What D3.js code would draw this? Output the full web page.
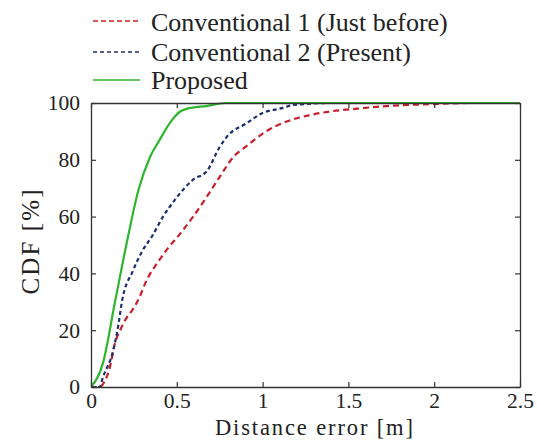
<!DOCTYPE html>
<html>
<head>
<meta charset="utf-8">
<script src="https://cdn.jsdelivr.net/npm/d3@7"></script>
<style>
  html, body { margin: 0; padding: 0; background: #fff; }
  svg { display: block; }
  text { font-family: "Liberation Serif", "Times New Roman", serif; fill: #222; }
</style>
</head>
<body>
<svg id="chart" width="537" height="445"></svg>
<script>
// Distance error [m] vs cumulative percentage for each method
const conv1Err = [0, 0.05, 0.08, 0.11, 0.14, 0.17, 0.21, 0.24, 0.275, 0.325, 0.39, 0.45, 0.52, 0.595, 0.675, 0.75, 0.83, 0.91, 1.02, 1.12, 1.28, 1.39, 1.55, 1.74, 1.99, 2.2, 2.5];
const conv1Cdf = [0, 0, 2, 7, 15.5, 20, 24.6, 27, 30.6, 37.7, 44, 49, 54, 60, 67, 74, 81, 85, 90, 93, 95.8, 97, 98, 99, 99.6, 100, 100];

const conv2Err = [0, 0.05, 0.07, 0.13, 0.16, 0.18, 0.245, 0.30, 0.355, 0.42, 0.49, 0.595, 0.675, 0.75, 0.79, 0.91, 1.0, 1.1, 1.18, 1.4, 2.5];
const conv2Cdf = [0, 0, 3.5, 13, 22, 30, 41, 48, 53, 60, 66, 73, 76, 84.5, 88, 93, 96.5, 98, 99.3, 100, 100];

const propErr = [0, 0.07, 0.14, 0.216, 0.275, 0.344, 0.40, 0.46, 0.52, 0.56, 0.68, 0.78, 2.5];
const propCdf = [0, 8.5, 30, 53, 69, 81, 87, 93, 97, 98, 99, 100, 100];

const xTicks = [0, 0.5, 1, 1.5, 2, 2.5];
const yTicks = [0, 20, 40, 60, 80, 100];

const seriesNames = ["Conventional 1 (Just before)", "Conventional 2 (Present)", "Proposed"];
const seriesColors = ["#c8202a", "#1c2f6e", "#2fb52f"];
const seriesDash = ["6,4", "4,3", null];

const svg = d3.select("#chart");
const margin = { left: 91, right: 17, top: 103, bottom: 58 };
const W = 537, H = 445;

const x = d3.scaleLinear().domain([0, 2.5]).range([margin.left, W - margin.right]);
const y = d3.scaleLinear().domain([0, 100]).range([H - margin.bottom, margin.top]);

const series = [
  { err: conv1Err, cdf: conv1Cdf },
  { err: conv2Err, cdf: conv2Cdf },
  { err: propErr, cdf: propCdf }
];

// curves
const line = d3.line().x(d => x(d[0])).y(d => y(d[1])).curve(d3.curveMonotoneX);
const plot = svg.append("g");
plot.append("clipPath").attr("id", "clip").append("rect")
  .attr("x", x(0)).attr("y", y(100) - 2).attr("width", x(2.5) - x(0)).attr("height", y(0) - y(100) + 2);
series.forEach((s, i) => {
  const pts = s.err.map((e, k) => [e, s.cdf[k]]);
  plot.append("path")
    .datum(pts)
    .attr("d", line)
    .attr("fill", "none")
    .attr("stroke", seriesColors[i])
    .attr("stroke-width", 2.2)
    .attr("stroke-dasharray", seriesDash[i])
    .attr("clip-path", "url(#clip)");
});

// frame axes with inward ticks
const tl = 5;
const axisColor = "#333";
svg.append("g").attr("transform", `translate(0,${y(0)})`)
  .call(d3.axisBottom(x).tickValues(xTicks).tickSizeInner(-tl).tickSizeOuter(0).tickPadding(6).tickFormat(d3.format("")));
svg.append("g").attr("transform", `translate(0,${y(100)})`)
  .call(d3.axisTop(x).tickValues(xTicks).tickSizeInner(-tl).tickSizeOuter(0).tickFormat(""));
svg.append("g").attr("transform", `translate(${x(0)},0)`)
  .call(d3.axisLeft(y).tickValues(yTicks).tickSizeInner(-tl).tickSizeOuter(0).tickPadding(11));
svg.append("g").attr("transform", `translate(${x(2.5)},0)`)
  .call(d3.axisRight(y).tickValues(yTicks).tickSizeInner(-tl).tickSizeOuter(0).tickFormat(""));

svg.selectAll(".domain").attr("stroke", axisColor).attr("stroke-width", 1.3);
svg.selectAll(".tick line").attr("stroke", axisColor).attr("stroke-width", 1.2);
svg.selectAll(".tick text")
  .attr("font-family", "Liberation Serif, serif")
  .attr("font-size", 21.5)
  .attr("fill", "#222");

// axis titles
svg.append("text")
  .attr("x", 314).attr("y", 435)
  .attr("text-anchor", "middle").attr("font-size", 22.5)
  .attr("textLength", 198).attr("lengthAdjust", "spacing")
  .text("Distance error [m]");
svg.append("text")
  .attr("transform", `translate(39,242) rotate(-90)`)
  .attr("text-anchor", "middle").attr("font-size", 25)
  .attr("textLength", 105).attr("lengthAdjust", "spacing")
  .text("CDF [%]");

// legend
const legLineY = [21, 52, 80];
const legTextY = [31, 61, 89];
seriesNames.forEach((name, i) => {
  svg.append("line")
    .attr("x1", 93).attr("x2", 140)
    .attr("y1", legLineY[i]).attr("y2", legLineY[i])
    .attr("stroke", seriesColors[i]).attr("stroke-width", 1.6)
    .attr("stroke-dasharray", i === 0 ? "5,3" : i === 1 ? "4,3" : null);
  svg.append("text")
    .attr("x", 151).attr("y", legTextY[i])
    .attr("font-size", 26)
    .text(name);
});
</script>
</body>
</html>
